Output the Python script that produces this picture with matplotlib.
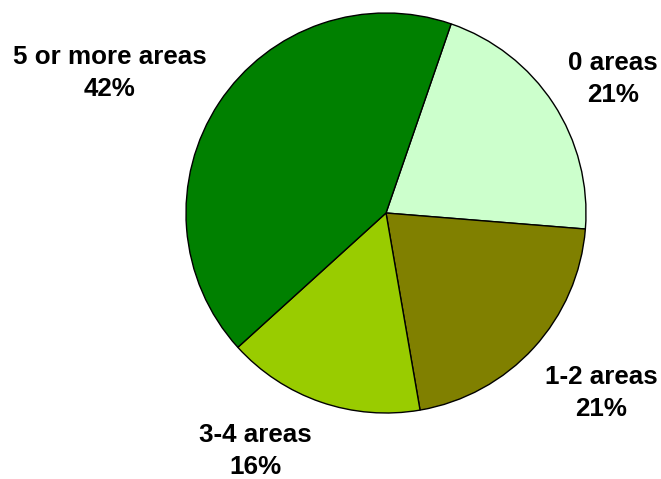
import matplotlib.pyplot as plt

# share of respondents by number of areas
categories = ['0 areas', '1-2 areas', '3-4 areas', '5 or more areas']
shares = [21, 21, 16, 42]
colors = ['#ccffcc', '#808000', '#99cc00', '#008000']

plt.rcParams['font.family'] = ['Liberation Sans', 'DejaVu Sans']

fig = plt.figure(figsize=(6.61, 4.79), dpi=100)
ax = fig.add_axes([0, 0, 1, 1])
ax.set_aspect('equal')
ax.axis('off')

wedges, _ = ax.pie(shares, colors=colors, startangle=71, counterclock=False,
                   radius=200, center=(386, 266),
                   wedgeprops=dict(edgecolor='black', linewidth=1.0))
ax.set_xlim(0, 661)
ax.set_ylim(0, 479)

# label positions, one per slice
label_pos = [(613, 400), (601, 86), (255, 28), (110, 406)]
for name, val, (x, y) in zip(categories, shares, label_pos):
    ax.text(x, y, f'{name}\n{val}%', ha='center', va='center',
            fontsize=18.7, fontweight='bold', linespacing=1.45)

fig.savefig('out.png', dpi=100)
